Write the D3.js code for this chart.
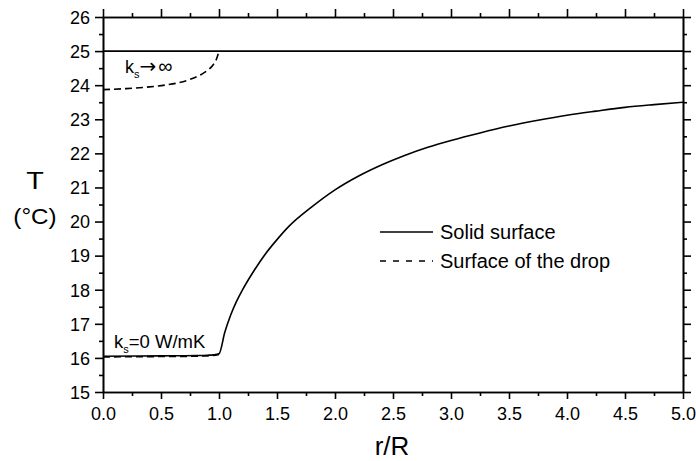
<!DOCTYPE html>
<html><head><meta charset="utf-8">
<script src="https://cdn.jsdelivr.net/npm/d3@7"></script>
<style>body{margin:0;background:#fff;} text{font-family:"Liberation Sans",Arial,sans-serif;fill:#000;}</style>
</head><body><svg id="c" width="696" height="461"></svg>
<script>
// Data
const solidInfR = [0, 5];
const solidInfT = [25, 25];
const dropInfR = [0, 0.2, 0.4, 0.55, 0.65, 0.75, 0.85, 0.9, 0.95, 0.98, 1.0];
const dropInfT = [23.87, 23.9, 23.95, 24.01, 24.07, 24.17, 24.32, 24.43, 24.6, 24.78, 25.0];
const solid0R = [0, 0.5, 0.8, 0.9, 0.95, 1.0, 1.05, 1.1, 1.15, 1.2, 1.3, 1.4, 1.5, 1.6, 1.8, 2.0, 2.2, 2.4, 2.6, 2.8, 3.0, 3.25, 3.5, 3.75, 4.0, 4.25, 4.5, 4.75, 5.0];
const solid0T = [16.05, 16.06, 16.07, 16.08, 16.09, 16.12, 16.75, 17.25, 17.65, 17.98, 18.55, 19.05, 19.47, 19.85, 20.43, 20.93, 21.33, 21.66, 21.94, 22.18, 22.38, 22.6, 22.8, 22.97, 23.12, 23.24, 23.35, 23.43, 23.5];
const drop0R = [0, 0.5, 0.8, 0.9, 0.95, 1.0];
const drop0T = [16.03, 16.04, 16.05, 16.06, 16.07, 16.1];
const xMajor = [0, 0.5, 1, 1.5, 2, 2.5, 3, 3.5, 4, 4.5, 5];
const xMinor = [0.25, 0.75, 1.25, 1.75, 2.25, 2.75, 3.25, 3.75, 4.25, 4.75];
const yMajor = [15, 16, 17, 18, 19, 20, 21, 22, 23, 24, 25, 26];
const yMinor = [15.5, 16.5, 17.5, 18.5, 19.5, 20.5, 21.5, 22.5, 23.5, 24.5, 25.5];
const legendLabels = ["Solid surface", "Surface of the drop"];

const svg = d3.select("#c");
const L = 103, R = 683, T = 17, B = 392;
const x = d3.scaleLinear().domain([0, 5]).range([L, R]);
const y = d3.scaleLinear().domain([15, 26]).range([B, T]);

function drawAxis(axisGen, tr, vals, size, labels) {
  const g = svg.append("g").attr("transform", tr)
    .call(axisGen.tickValues(vals).tickSize(size).tickSizeOuter(0)
      .tickFormat(labels ? labels : () => ""));
  g.select(".domain").attr("stroke", "#000").attr("stroke-width", 1.6);
  g.selectAll(".tick line").attr("stroke", "#000").attr("stroke-width", 1.6);
  return g;
}
// bottom
const gb = drawAxis(d3.axisBottom(x), `translate(0,${B})`, xMajor, 7, d => d3.format(".1f")(d));
gb.selectAll("text").attr("font-size", 18).attr("font-family", "Liberation Sans").attr("dy", "0.71em").attr("y", 15);
drawAxis(d3.axisBottom(x), `translate(0,${B})`, xMinor, 4, null);
// top
drawAxis(d3.axisTop(x), `translate(0,${T})`, xMajor, 8, null);
drawAxis(d3.axisTop(x), `translate(0,${T})`, xMinor, 4, null);
// left
const gl = drawAxis(d3.axisLeft(y), `translate(${L},0)`, yMajor, 8, d => d3.format("d")(d));
gl.selectAll("text").attr("font-size", 18).attr("font-family", "Liberation Sans").attr("x", -13).attr("dy", "0.35em");
drawAxis(d3.axisLeft(y), `translate(${L},0)`, yMinor, 4, null);
// right
drawAxis(d3.axisRight(y), `translate(${R},0)`, yMajor, 8, null);
drawAxis(d3.axisRight(y), `translate(${R},0)`, yMinor, 4, null);

const line = d3.line().x(d => x(d[0])).y(d => y(d[1])).curve(d3.curveMonotoneX);
function series(rs, ts, dashed) {
  svg.append("path").datum(rs.map((r, i) => [r, ts[i]]))
    .attr("d", line).attr("fill", "none").attr("stroke", "#000").attr("stroke-width", 1.6)
    .attr("stroke-dasharray", dashed ? "7,4" : null);
}
series(solidInfR, solidInfT, false);
series(solid0R, solid0T, false);
series(dropInfR, dropInfT, true);
series(drop0R, drop0T, true);

// axis titles
svg.append("text").attr("x", 35).attr("y", 189).attr("text-anchor", "middle").attr("font-size", 24)
  .attr("transform", "translate(35,0) scale(1.2,1) translate(-35,0)").text("T");
svg.append("text").attr("x", 35).attr("y", 224).attr("text-anchor", "middle").attr("font-size", 22)
  .attr("transform", "translate(35,0) scale(1.1,1) translate(-35,0)").text("(°C)");
svg.append("text").attr("x", 392).attr("y", 455).attr("text-anchor", "middle").attr("font-size", 26).text("r/R");

// legend
const lg = svg.append("g");
legendLabels.forEach((lab, i) => {
  const yy = 232 + i * 29;
  lg.append("line").attr("x1", 380).attr("x2", 433).attr("y1", yy).attr("y2", yy)
    .attr("stroke", "#000").attr("stroke-width", 1.5).attr("stroke-dasharray", i ? "6,7" : null);
  lg.append("text").attr("x", 440).attr("y", yy + 6.5).attr("font-size", 20).text(lab);
});

// annotations
const a1 = svg.append("text").attr("x", 125).attr("y", 73).attr("font-size", 18);
a1.append("tspan").text("k");
a1.append("tspan").attr("font-size", 11).attr("dy", 5).text("s");
a1.append("tspan").attr("dy", -5).attr("font-size", 20).attr("font-family", "DejaVu Sans").text("\u2192");
a1.append("tspan").attr("font-size", 20).attr("dx", 2).text("\u221E");
const a2 = svg.append("text").attr("x", 114).attr("y", 348).attr("font-size", 18.5);
a2.append("tspan").text("k");
a2.append("tspan").attr("font-size", 11).attr("dy", 5).text("s");
a2.append("tspan").attr("dy", -5).text("=0 W/mK");
</script></body></html>
